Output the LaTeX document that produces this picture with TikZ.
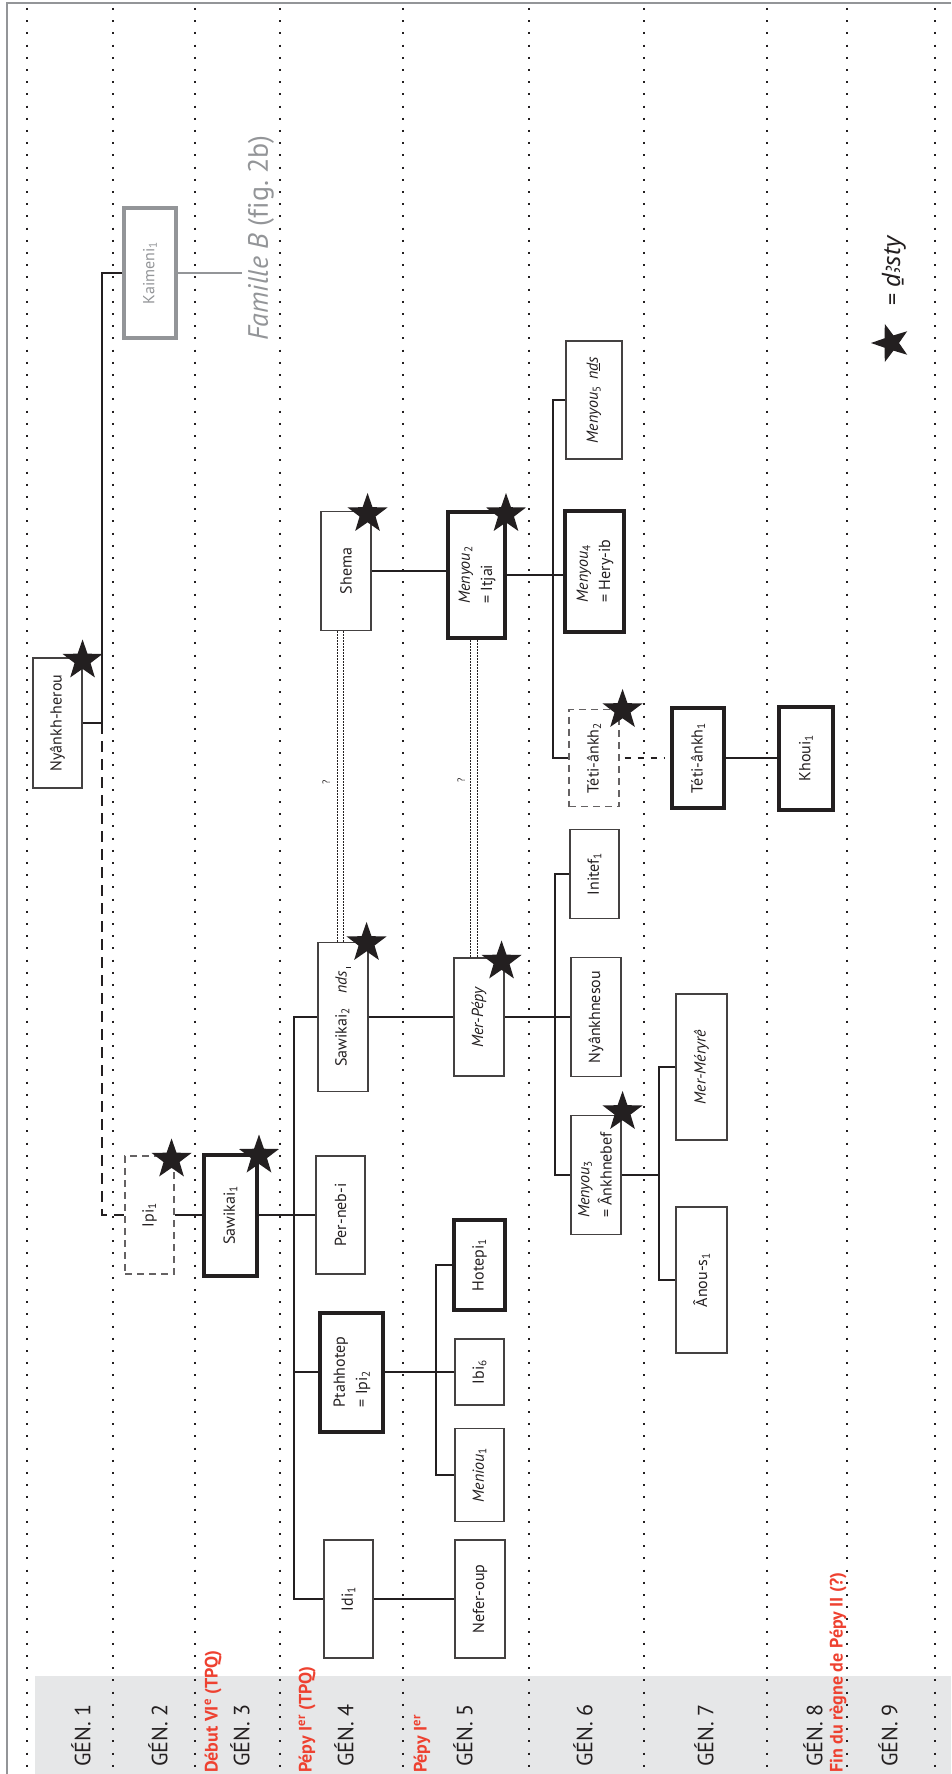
\documentclass[tikz,border=0pt]{standalone}
\usepackage{fontspec}
\setmainfont{PT Sans}
\newfontfamily\egfont{Noto Sans}
\usetikzlibrary{shapes.geometric}
\definecolor{ink}{HTML}{231F20}
\definecolor{redlab}{HTML}{EE4130}
\definecolor{band}{HTML}{E6E7E8}
\definecolor{grayk}{HTML}{939598}
\newcommand{\rt}[1]{\rotatebox{90}{#1}}
\newcommand{\two}[2]{\begin{tabular}{@{}l@{}}#1\\#2\end{tabular}}
\renewcommand{\arraystretch}{1.18}
\tikzset{
  pbox/.style={draw=ink!85, line width=1.1pt, fill=white, inner sep=0pt, text=ink,
    font=\fontsize{16}{19}\selectfont},
  tbox/.style={pbox, draw=ink, line width=4pt},
  dbox/.style={pbox, draw=ink!70, dash pattern=on 7pt off 5pt},
  gbox/.style={pbox, draw=grayk, line width=4pt, text=grayk},
  conn/.style={draw=ink, line width=1.1pt},
  dashl/.style={draw=ink, line width=1.1pt, dash pattern=on 11pt off 7pt},
  gline/.style={draw=grayk, line width=1.3pt},
  gensep/.style={draw=ink, line width=2pt, dash pattern=on 2pt off 10.2pt},
  qline/.style={draw=ink, line width=0.8pt, dash pattern=on 1.5pt off 1.5pt},
  starm/.style={star, star points=5, star point ratio=2.5, fill=ink, draw=none,
    inner sep=0pt, minimum size=42pt},
  genlab/.style={anchor=south, inner sep=0pt, text=ink, font=\fontsize{22}{26}\selectfont},
  redl/.style={anchor=south, inner sep=0pt, text=redlab, font=\bfseries\fontsize{18}{21}\selectfont},
  qmark/.style={inner sep=0pt, text=ink, font=\fontsize{10}{12}\selectfont}
}
\begin{document}
\begin{tikzpicture}[x=1pt,y=-1pt]
\useasboundingbox (0,0) rectangle (951,1774);
% grey band
\fill[band] (35,1676) rectangle (951,1774);
% frame
\draw[grayk, line width=2pt] (7,1774) -- (7,3) -- (951,3);
% generation separators
\foreach \x in {27,113,195,280,403,529,644,767,847,935}
  \draw[gensep] (\x,8) -- (\x,1774);

% ---------- nodes ----------
\node[pbox, minimum width=49pt, minimum height=130pt] (nyank) at (57.5,723) {\rt{Nyânkh-herou}};
\node[gbox, minimum width=52pt, minimum height=130pt] (kaim) at (150,273) {\rt{Kaimeni\textsubscript{1}}};
\node[dbox, minimum width=49pt, minimum height=118pt] (ipi1) at (149.5,1215) {\rt{Ipi\textsubscript{1}}};
\node[tbox, minimum width=53pt, minimum height=121pt] (saw1) at (230.5,1215) {\rt{Sawikai\textsubscript{1}}};
\node[pbox, minimum width=49pt, minimum height=118pt] (perneb) at (340.5,1215) {\rt{Per-neb-i}};
\node[tbox, minimum width=63pt, minimum height=119pt] (ptah) at (351.5,1372) {\rt{\two{Ptahhotep}{= Ipi\textsubscript{2}}}};
\node[pbox, minimum width=49pt, minimum height=118pt] (idi) at (348.5,1599) {\rt{Idi\textsubscript{1}}};
\node[pbox, minimum width=50pt, minimum height=149pt] (saw2) at (343,1017) {\rt{Sawikai\textsubscript{2}\hspace{14pt}\textit{nds}\hspace{3pt}\rule[-4pt]{0.8pt}{4.5pt}}};
\node[pbox, minimum width=50pt, minimum height=119pt] (shema) at (346,571) {\rt{Shema}};
\node[tbox, minimum width=57pt, minimum height=126pt] (menyou2) at (476.5,575) {\rt{\two{\textit{Menyou}\textsubscript{2}}{= Itjai}}};
\node[tbox, minimum width=51pt, minimum height=90pt] (hotepi) at (479.5,1265) {\rt{Hotepi\textsubscript{1}}};
\node[pbox, minimum width=49pt, minimum height=66pt] (ibi) at (479.5,1372) {\rt{Ibi\textsubscript{6}}};
\node[pbox, minimum width=49pt, minimum height=93pt] (meniou) at (479.5,1475) {\rt{\textit{Meniou}\textsubscript{1}}};
\node[pbox, minimum width=50pt, minimum height=118pt] (nefer) at (480,1599) {\rt{Nefer-oup}};
\node[pbox, minimum width=50pt, minimum height=118pt] (merpepy) at (479,1017) {\rt{\textit{Mer-Pépy}}};
\node[pbox, minimum width=50pt, minimum height=119pt] (menyou3) at (596,1175) {\rt{\two{\textit{Menyou}\textsubscript{3}}{= Ânkhnebef}}};
\node[pbox, minimum width=50pt, minimum height=119pt] (nyankhn) at (596,1017) {\rt{Nyânkhnesou}};
\node[pbox, minimum width=49pt, minimum height=89pt] (initef) at (594.5,874) {\rt{Initef\textsubscript{1}}};
\node[dbox, minimum width=50pt, minimum height=97pt] (teti2) at (594,758) {\rt{Téti-ânkh\textsubscript{2}}};
\node[tbox, minimum width=59pt, minimum height=121pt] (menyou4) at (594.5,571) {\rt{\two{\textit{Menyou}\textsubscript{4}}{= Hery-ib}}};
\node[pbox, minimum width=56pt, minimum height=118pt] (menyou5) at (594,400) {\rt{\textit{Menyou}\textsubscript{5}\hspace{6pt}\textit{n\underline{d}s}}};
\node[pbox, minimum width=51pt, minimum height=146pt] (anous) at (701.5,1280) {\rt{Ânou-s\textsubscript{1}}};
\node[pbox, minimum width=51pt, minimum height=146pt] (mermery) at (701.5,1067) {\rt{\textit{Mer-Méryrê}}};
\node[tbox, minimum width=52pt, minimum height=100pt] (teti1) at (698,758) {\rt{Téti-ânkh\textsubscript{1}}};
\node[tbox, minimum width=54pt, minimum height=103pt] (khoui) at (806,758) {\rt{Khoui\textsubscript{1}}};

% Famille B
\node[anchor=south, inner sep=0pt, text=grayk, font=\fontsize{28}{32}\selectfont\addfontfeatures{Ligatures=NoCommon}] (famB) at (261,341) {\rt{\textit{Famille B} (fig.~2b)}};

% ---------- connectors ----------
\coordinate (jA) at (102,273);
\draw[conn] (kaim.west) -- (jA) |- (nyank.east);
\draw[dashl] (jA |- nyank.east) |- (ipi1.west);
\draw[gline, shorten >=6pt] (kaim.east) -- (kaim.east -| famB.west);
\draw[conn] (ipi1.east) -- (saw1.west);
\draw[conn] (saw1.east) -- (perneb.west);
\coordinate (jB) at (294,0);
\draw[conn] (saw2.west) -- (saw2.west -| jB) -- (idi.west -| jB) -- (idi.west);
\draw[conn] (ptah.west -| jB) -- (ptah.west);
\draw[conn] (ptah.east) -- (ibi.west);
\coordinate (jC) at (436,0);
\draw[conn] (hotepi.west) -- (hotepi.west -| jC) -- (meniou.west -| jC) -- (meniou.west);
\draw[conn] (idi.east) -- (nefer.west);
\draw[conn] (saw2.east) -- (merpepy.west);
\draw[conn] (merpepy.east) -- (nyankhn.west);
\coordinate (jD) at (555,0);
\draw[conn] (initef.west) -- (initef.west -| jD) -- (menyou3.west -| jD) -- (menyou3.west);
\coordinate (jE) at (659,0);
\draw[conn] (menyou3.east) -- (menyou3.east -| jE);
\draw[conn] (mermery.west) -- (mermery.west -| jE) -- (anous.west -| jE) -- (anous.west);
\draw[conn] (shema.east) -- (shema.east -| menyou2.west);
\draw[conn] (menyou2.east) -- (menyou2.east -| menyou4.west);
\coordinate (jF) at (553,0);
\draw[conn] (menyou5.west) -- (menyou5.west -| jF) -- (teti2.west -| jF) -- (teti2.west);
\draw[dashl, dash pattern=on 6pt off 7pt, shorten <=5pt, shorten >=5pt] (teti2.east) -- (teti1.west);
\draw[conn] (teti1.east) -- (khoui.west);
% uncertain links
\coordinate (qa) at (337,0); \coordinate (qb) at (343,0);
\coordinate (qc) at (470,0); \coordinate (qd) at (477,0);
\draw[qline] (shema.south -| qa) -- (saw2.north -| qa);
\draw[qline] (shema.south -| qb) -- (saw2.north -| qb);
\draw[qline] (menyou2.south -| qc) -- (merpepy.north -| qc);
\draw[qline] (menyou2.south -| qd) -- (merpepy.north -| qd);
\node[qmark] (q1) at (326,782) {\rt{?}};
\node[qmark] (q2) at (461,780) {\rt{?}};

% ---------- stars ----------
\node[starm] (st1) at ([yshift=-3pt]nyank.north east) {};
\node[starm] (st2) at ([shift={(-3pt,-4pt)}]ipi1.north east) {};
\node[starm] (st3) at ([yshift=-3pt]saw1.north east) {};
\node[starm] (st4) at ([shift={(-2pt,-1pt)}]saw2.north east) {};
\node[starm] (st5) at ([shift={(-4pt,-3pt)}]shema.north east) {};
\node[starm] (st6) at ([shift={(-1pt,-4pt)}]menyou2.north east) {};
\node[starm] (st7) at ([shift={(-3pt,-4pt)}]merpepy.north east) {};
\node[starm] (st8) at ([shift={(1pt,3pt)}]menyou3.north east) {};
\node[starm] (st9) at ([shift={(3pt,-1pt)}]teti2.north east) {};

% ---------- legend ----------
\node[starm, shape border rotate=90, minimum size=40pt] (lstar) at (891,343) {};
\node[anchor=south, inner sep=0pt, text=ink, font=\fontsize{24}{28}\selectfont] (ltext) at (894,306) {\rt{= {\egfont\itshape ḏꜣsty}}};

% ---------- generation labels ----------
\node[genlab] (g1) at (81,1767) {\rt{GÉN. 1}};
\node[genlab] (g2) at (158,1767) {\rt{GÉN. 2}};
\node[genlab] (g3) at (240,1767) {\rt{GÉN. 3}};
\node[genlab] (g4) at (344,1767) {\rt{GÉN. 4}};
\node[genlab] (g5) at (463,1767) {\rt{GÉN. 5}};
\node[genlab] (g6) at (583,1767) {\rt{GÉN. 6}};
\node[genlab] (g7) at (704,1767) {\rt{GÉN. 7}};
\node[genlab] (g8) at (813,1767) {\rt{GÉN. 8}};
\node[genlab] (g9) at (888,1767) {\rt{GÉN. 9}};
\node[redl] (r1) at (213,1773) {\rt{Début VI\textsuperscript{e} (TPQ)}};
\node[redl] (r2) at (307,1773) {\rt{Pépy I\textsuperscript{er} (TPQ)}};
\node[redl] (r3) at (422,1773) {\rt{Pépy I\textsuperscript{er}}};
\node[redl] (r4) at (838,1773) {\rt{Fin du règne de Pépy II (?)}};
\end{tikzpicture}
\end{document}
